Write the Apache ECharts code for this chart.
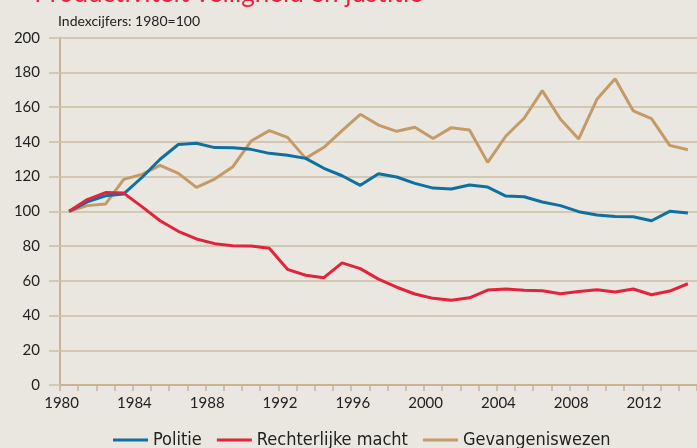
<!DOCTYPE html>
<html>
<head>
<meta charset="utf-8">
<script src="https://cdn.jsdelivr.net/npm/echarts@6/dist/echarts.min.js"></script>
<style>
html,body{margin:0;padding:0;background:#e9e7df;}
#chart{width:697px;height:448px;}
</style>
</head>
<body>
<div id="chart"></div>
<script>
const years = [1980,1981,1982,1983,1984,1985,1986,1987,1988,1989,1990,1991,1992,1993,1994,1995,1996,1997,1998,1999,2000,2001,2002,2003,2004,2005,2006,2007,2008,2009,2010,2011,2012,2013,2014];
const politie = [100,105.5,109,110,119.5,130,138.5,139.2,136.7,136.6,135.7,133.4,132.3,130.5,124.8,120.5,115,121.7,119.8,116.1,113.4,112.9,115.2,114,108.8,108.4,105.4,103.3,99.8,97.9,97.1,96.9,94.6,100,99];
const rechterlijkeMacht = [100,106.8,110.8,110.5,102.7,94.6,88.5,84.1,81.4,80.2,80,78.7,66.6,63.2,61.8,70.3,67,61,56.3,52.4,49.9,48.8,50.2,54.7,55.3,54.5,54.3,52.6,53.9,54.9,53.6,55.3,52,54.1,58.3];
const gevangeniswezen = [100,103.3,104.2,118.4,121.3,126.5,121.9,113.8,118.6,125.7,140.5,146.5,142.6,130.5,136.9,146.5,155.9,149.7,146.1,148.4,142,148.2,146.8,128.2,143.4,153.6,169.5,153,141.7,164.5,176.4,157.8,153.4,138,135.5];
const seriesNames = ['Politie','Rechterlijke macht','Gevangeniswezen'];
const title = 'Productiviteit veiligheid en justitie';
const subtitle = 'Indexcijfers: 1980=100';

const gridCol = '#d3c8b4';
const axisCol = '#c8b395';
const font = 'Lato, "Open Sans", sans-serif';
const chart = echarts.init(document.getElementById('chart'));
chart.setOption({
  backgroundColor: '#e9e7df',
  animation: false,
  graphic: [
    {type:'text', x:423, y:7, style:{text:title, fill:'#e3263f', font:'26px Lato, "Open Sans", sans-serif', textAlign:'right', textVerticalAlign:'bottom'}},
    {type:'text', x:58, y:21, style:{text:subtitle, fill:'#222', font:'14px Lato, "Open Sans", sans-serif', textAlign:'left', textVerticalAlign:'middle'}}
  ],
  grid: {left:60, top:37.7, width:641.7, height:347.3, containLabel:false},
  legend: {
    top: 430, left: 113, padding: 0,
    itemGap: 15, itemWidth: 35, itemHeight: 3,
    icon: 'rect',
    textStyle: {fontFamily:'"Liberation Sans Narrow", "DejaVu Sans Condensed", sans-serif', fontSize:18, color:'#222', lineHeight:20},
    data: seriesNames
  },
  xAxis: {
    type: 'category',
    data: years,
    boundaryGap: true,
    axisLine: {show:true, lineStyle:{color:axisCol, width:2}},
    axisTick: {show:true, interval:0, length:6, lineStyle:{color:axisCol, width:1.5}},
    axisLabel: {interval:3, margin:11, color:'#222', fontFamily:font, fontSize:15, padding:[0,15,0,0]},
    splitLine: {show:false}
  },
  yAxis: {
    type: 'value',
    min: 0, max: 200, interval: 20,
    axisLine: {show:true, lineStyle:{color:axisCol, width:2}},
    axisTick: {show:true, length:11, lineStyle:{color:gridCol, width:2}},
    axisLabel: {margin:20, color:'#222', fontFamily:font, fontSize:15},
    splitLine: {show:true, lineStyle:{color:gridCol, width:2}}
  },
  series: [
    {name:seriesNames[0], type:'line', data:politie, showSymbol:false, symbol:'none', lineStyle:{width:3, color:'#0f6fa0'}, itemStyle:{color:'#0f6fa0'}, z:3},
    {name:seriesNames[1], type:'line', data:rechterlijkeMacht, showSymbol:false, symbol:'none', lineStyle:{width:3, color:'#e2233b'}, itemStyle:{color:'#e2233b'}, z:4},
    {name:seriesNames[2], type:'line', data:gevangeniswezen, showSymbol:false, symbol:'none', lineStyle:{width:3, color:'#c49a68'}, itemStyle:{color:'#c49a68'}, z:2}
  ]
});
</script>
</body>
</html>
